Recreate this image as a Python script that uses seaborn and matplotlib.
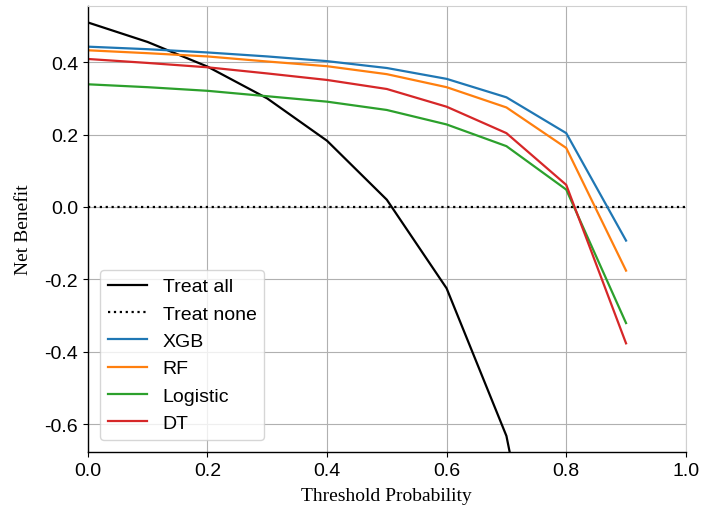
import matplotlib
matplotlib.use("Agg")
import matplotlib.pyplot as plt
import seaborn as sns
import pandas as pd

plt.rcParams["axes.unicode_minus"] = False

thresholds = [0.0, 0.1, 0.2, 0.3, 0.4, 0.5, 0.6, 0.7, 0.8, 0.9]
treat_all = [0.510, 0.456, 0.388, 0.300, 0.183, 0.020, -0.225, -0.633, -1.450, -3.900]
treat_none_x = [0.0, 1.0]
treat_none_y = [0.0, 0.0]
xgb = [0.443, 0.436, 0.427, 0.416, 0.403, 0.384, 0.354, 0.303, 0.204, -0.093]
rf = [0.433, 0.425, 0.416, 0.402, 0.389, 0.367, 0.331, 0.275, 0.163, -0.176]
logistic = [0.339, 0.331, 0.321, 0.306, 0.291, 0.268, 0.228, 0.168, 0.048, -0.321]
dt = [0.409, 0.398, 0.386, 0.369, 0.351, 0.326, 0.277, 0.204, 0.061, -0.377]

fig = plt.figure(figsize=(7.02, 5.10), dpi=100)
ax = fig.add_axes([0.125, 0.112, 0.852, 0.874])

sns.lineplot(x=thresholds, y=treat_all, ax=ax, color="black", label="Treat all", linewidth=1.6)
sns.lineplot(x=treat_none_x, y=treat_none_y, ax=ax, color="black", linestyle=":", label="Treat none", linewidth=1.6)
model_series = [("XGB", xgb, "#1f77b4"), ("RF", rf, "#ff7f0e"),
                ("Logistic", logistic, "#2ca02c"), ("DT", dt, "#d62728")]
for name, vals, col in model_series:
    sns.lineplot(x=thresholds, y=vals, ax=ax, color=col, label=name, linewidth=1.6)

ax.set_xlim(0, 1)
ax.set_ylim(-0.677, 0.555)
ax.set_xticks([0.0, 0.2, 0.4, 0.6, 0.8, 1.0])
ax.set_yticks([-0.6, -0.4, -0.2, 0.0, 0.2, 0.4])
ax.grid(True, color="#b0b0b0", linewidth=0.8)
ax.set_axisbelow(True)
for s in ["top", "right"]:
    ax.spines[s].set_color("#d0d0d0")
for s in ["left", "bottom"]:
    ax.spines[s].set_color("black")
    ax.spines[s].set_linewidth(1.0)

for lab in ax.get_xticklabels() + ax.get_yticklabels():
    lab.set_family("Liberation Sans")
    lab.set_fontsize(14)

ax.set_xlabel("Threshold Probability", family="Liberation Serif", fontsize=14, labelpad=6)
ax.set_ylabel("Net Benefit", family="Liberation Serif", fontsize=14, labelpad=9)

leg = ax.legend(loc="lower left", prop={"family": "Liberation Sans", "size": 14},
                bbox_to_anchor=(0.005, 0.005), handlelength=2.0)

fig.savefig("out.png", dpi=100)
